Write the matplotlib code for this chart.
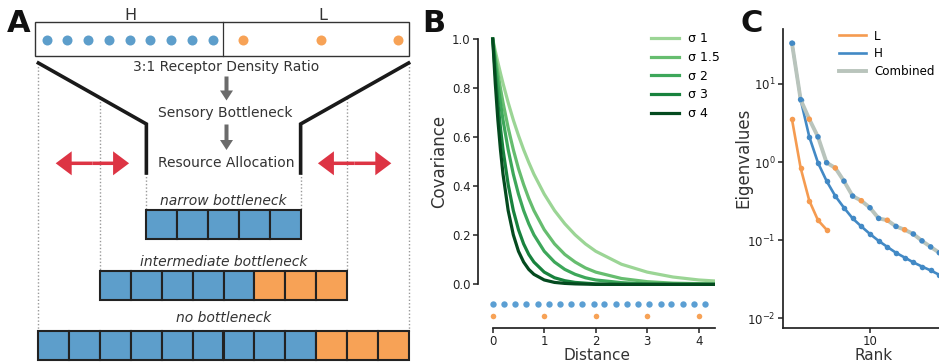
import numpy as np
import matplotlib
matplotlib.use('Agg')
import matplotlib.pyplot as plt
from matplotlib.patches import Rectangle

# ---- dados ----
# painel A: receptores e alocacao
n_receptores_H = 9
n_receptores_L = 3
linhas = ['narrow bottleneck', 'intermediate bottleneck', 'no bottleneck']
linhas_H = [5, 5, 9]
linhas_L = [0, 3, 3]

# painel B: covariancia x distancia
sigmas = ['σ 1', 'σ 1.5', 'σ 2', 'σ 3', 'σ 4']
dist = [0, 0.05, 0.1, 0.15, 0.2, 0.3, 0.4, 0.5, 0.6, 0.7, 0.8, 1.0, 1.2, 1.4,
        1.6, 1.8, 2.0, 2.5, 3.0, 3.5, 4.0, 4.3]
cov_1 = [1.0, 0.951, 0.905, 0.861, 0.819, 0.741, 0.670, 0.607, 0.549, 0.497, 0.449,
         0.368, 0.301, 0.247, 0.202, 0.165, 0.135, 0.082, 0.050, 0.030, 0.018, 0.014]
cov_15 = [1.0, 0.928, 0.861, 0.799, 0.741, 0.638, 0.549, 0.472, 0.407, 0.350, 0.301,
          0.223, 0.165, 0.122, 0.091, 0.067, 0.050, 0.024, 0.011, 0.005, 0.003, 0.002]
cov_2 = [1.0, 0.905, 0.819, 0.741, 0.670, 0.549, 0.449, 0.368, 0.301, 0.247, 0.202,
         0.135, 0.091, 0.061, 0.041, 0.027, 0.018, 0.007, 0.002, 0.001, 0.0, 0.0]
cov_3 = [1.0, 0.861, 0.741, 0.638, 0.549, 0.407, 0.301, 0.223, 0.165, 0.122, 0.091,
         0.050, 0.027, 0.015, 0.008, 0.005, 0.002, 0.0, 0.0, 0.0, 0.0, 0.0]
cov_4 = [1.0, 0.819, 0.670, 0.549, 0.449, 0.301, 0.202, 0.135, 0.091, 0.061, 0.041,
         0.018, 0.008, 0.004, 0.002, 0.001, 0.0, 0.0, 0.0, 0.0, 0.0, 0.0]
pos_H = [0, 0.22, 0.44, 0.65, 0.87, 1.09, 1.31, 1.52, 1.74, 1.96, 2.17, 2.39,
         2.61, 2.82, 3.04, 3.26, 3.47, 3.69, 3.91, 4.12]
pos_L = [0, 1, 2, 3, 4]

# painel C: autovalores
eig_H = [33.2, 6.3, 2.1, 0.98, 0.57, 0.367, 0.26, 0.19, 0.15, 0.12, 0.098,
         0.082, 0.069, 0.06, 0.052, 0.046, 0.041, 0.036]
eig_L = [3.53, 0.84, 0.32, 0.18, 0.136]

azul = '#5d9ecb'
laranja = '#f7a256'
azul_c = '#4289c5'
laranja_c = '#f59b50'
cinza_c = '#b9c4bc'
verdes = ['#9bd595', '#66bd6f', '#3da75a', '#18823d', '#044a1f']
preto = '#222222'

plt.rcParams['font.family'] = 'DejaVu Sans'
plt.rcParams['axes.edgecolor'] = preto
plt.rcParams['axes.linewidth'] = 1.25
plt.rcParams['xtick.color'] = preto
plt.rcParams['ytick.color'] = preto

W, H = 939, 364
fig = plt.figure(figsize=(W / 100, H / 100), dpi=100)

# ---------------- painel A (coordenadas em pixels) ----------------
axA = fig.add_axes([0, 0, 420 / W, 1])
axA.set_xlim(0, 420)
axA.set_ylim(H, 0)
axA.axis('off')

cx = 223.5
cel = 30.85
alt = 29.3

# faixa superior com os receptores
axA.add_patch(Rectangle((35, 22.3), 374.3, 33.7, fill=False, lw=1.0, ec='#333333'))
axA.plot([223, 223], [22.3, 56], color='#333333', lw=0.9)
xs_H = 46.7 + 20.75 * np.arange(n_receptores_H)
xs_L = 243.3 + 77.5 * np.arange(n_receptores_L)
axA.plot(xs_H, [40] * len(xs_H), 'o', color=azul, ms=7.2, mec='none')
axA.plot(xs_L, [40] * len(xs_L), 'o', color=laranja, ms=7.2, mec='none')
axA.text(130, 15, 'H', ha='center', va='center', fontsize=11.5, color='#333333')
axA.text(322.7, 15, 'L', ha='center', va='center', fontsize=11.5, color='#333333')

# funil
n_max = linhas_H[2] + linhas_L[2]
n_min = linhas_H[0] + linhas_L[0]
larg_max = n_max * cel / 2
larg_min = n_min * cel / 2
for s in (-1, 1):
    axA.plot([cx + s * larg_max, cx + s * larg_min, cx + s * larg_min], [63, 124, 173],
             color='#1a1a1a', lw=2.6, solid_joinstyle='miter')

axA.text(226.5, 66.7, '3:1 Receptor Density Ratio', ha='center', va='center',
         fontsize=10, color='#333333')
axA.text(225, 112.7, 'Sensory Bottleneck', ha='center', va='center', fontsize=10,
         color='#333333')
axA.text(226, 163.3, 'Resource Allocation', ha='center', va='center', fontsize=10,
         color='#333333')
for y0, y1 in [(76.5, 100.5), (124.5, 150)]:
    axA.arrow(226.5, y0, 0, y1 - y0, width=4, head_width=13, head_length=10,
              length_includes_head=True, color='#6b6b6b', lw=0)

# setas vermelhas
for s in (-1, 1):
    xm = cx + s * (larg_max + larg_min) / 2
    for d in (-1, 1):
        axA.arrow(xm, 163.3, d * 36.7, 0, width=3.5, head_width=24, head_length=16,
                  length_includes_head=True, color='#dd3444', lw=0)

# linhas de alocacao
topos = [210, 270.7, 330.7]
base_txt = [205, 266, 321.5]
for nome, nh, nl, topo, yt in zip(linhas, linhas_H, linhas_L, topos, base_txt):
    n = nh + nl
    x0 = cx - n * cel / 2
    for k in range(n):
        cor = azul if k < nh else laranja
        axA.add_patch(Rectangle((x0 + k * cel, topo), cel, alt, fc=cor, ec=preto, lw=1.5))
    axA.text(cx, yt, nome, ha='center', va='baseline', style='italic', fontsize=10,
             color='#333333')
    # linhas pontilhadas nas bordas
    for xb in (x0, x0 + n * cel):
        if n == n_min:
            yi = 173
        else:
            dx = abs(xb - cx)
            yi = np.interp(dx, [larg_min, larg_max], [124, 63])
        axA.plot([xb, xb], [yi, topo], color='#999999', lw=1.0, ls=(0, (1, 1.5)), zorder=0)

# ---------------- painel B ----------------
axB = fig.add_axes([478.3 / W, 35.7 / H, 236.9 / W, 294.2 / H])
for vals, lab, cor in zip([cov_1, cov_15, cov_2, cov_3, cov_4], sigmas, verdes):
    axB.plot(dist, vals, color=cor, lw=2.3, label=lab)
axB.plot(pos_H, [-0.082] * len(pos_H), 'o', color='#5b9fd3', ms=4.6, mec='none')
axB.plot(pos_L, [-0.129] * len(pos_L), 'o', color=laranja, ms=4.0, mec='none')
axB.set_xlim(-0.28, 4.32)
axB.set_ylim(-0.179, 1.02)
axB.spines['top'].set_visible(False)
axB.spines['right'].set_visible(False)
axB.spines['left'].set_bounds(0, 1)
axB.spines['bottom'].set_bounds(0, 4.32)
axB.set_yticks([0, 0.2, 0.4, 0.6, 0.8, 1.0])
axB.set_yticklabels(['0.0', '0.2', '0.4', '0.6', '0.8', '1.0'])
axB.set_xticks([0, 1, 2, 3, 4])
axB.tick_params(labelsize=8.5, length=3.5, width=1.1, pad=2)
axB.tick_params(axis='x', pad=1)
axB.set_xlabel('Distance', fontsize=11, labelpad=0, color='#333333')
axB.set_ylabel('Covariance', fontsize=12, color='#333333')
axB.yaxis.set_label_coords(-0.127, 0.566)
axB.legend(loc='upper left', bbox_to_anchor=(651 / W, 1 - 32.5 / H),
           bbox_transform=fig.transFigure, frameon=False, fontsize=9,
           handlelength=2.25, handletextpad=0.75, labelspacing=0.45,
           borderpad=0, borderaxespad=0)

# ---------------- painel C ----------------
axC = fig.add_axes([783.3 / W, 35.7 / H, 180.3 / W, 299 / H])
axC.set_yscale('log')
rank_L = np.arange(1, len(eig_L) + 1)
rank_H = np.arange(1, len(eig_H) + 1)
axC.plot(rank_L, eig_L, color=laranja_c, lw=1.9, label='L')
axC.plot(rank_L, eig_L, 'o', color=laranja_c, ms=4, mec='none')
axC.plot(rank_H, eig_H, color=azul_c, lw=1.9, label='H')
axC.plot(rank_H, eig_H, 'o', color=azul_c, ms=4, mec='none')

todos = [(v, azul_c) for v in eig_H] + [(v, laranja_c) for v in eig_L]
todos.sort(key=lambda t: -t[0])
comb = [t[0] for t in todos]
comb_cor = [t[1] for t in todos]
rank_C = np.arange(1, len(comb) + 1)
axC.plot(rank_C, comb, color=cinza_c, lw=2.8, label='Combined')
axC.scatter(rank_C, comb, c=comb_cor, s=16, zorder=3, linewidths=0)

axC.set_xlim(0, 20.8)
axC.set_ylim(0.00745, 50)
axC.set_xticks([10])
axC.yaxis.set_minor_locator(matplotlib.ticker.NullLocator())
axC.spines['top'].set_visible(False)
axC.spines['right'].set_visible(False)
axC.tick_params(labelsize=8.5, length=3.5, width=1.1, pad=2)
axC.tick_params(axis='x', pad=1)
axC.set_xlabel('Rank', fontsize=11, labelpad=0, color='#333333')
axC.set_ylabel('Eigenvalues', fontsize=12, color='#333333')
axC.yaxis.set_label_coords(-0.17, 0.571)
axC.legend(loc='upper left', bbox_to_anchor=(839 / W, 1 - 29.5 / H),
           bbox_transform=fig.transFigure, frameon=False, fontsize=8.6,
           handlelength=2.25, handletextpad=0.7, labelspacing=0.4,
           borderpad=0, borderaxespad=0)

# letras dos paineis
for letra, x in [('A', 19), ('B', 433.5), ('C', 752)]:
    fig.text(x / W, 1 - 24 / H, letra, ha='center', va='center', fontsize=22,
             fontweight='heavy', color='#111111')

fig.savefig('out.png', dpi=100)
